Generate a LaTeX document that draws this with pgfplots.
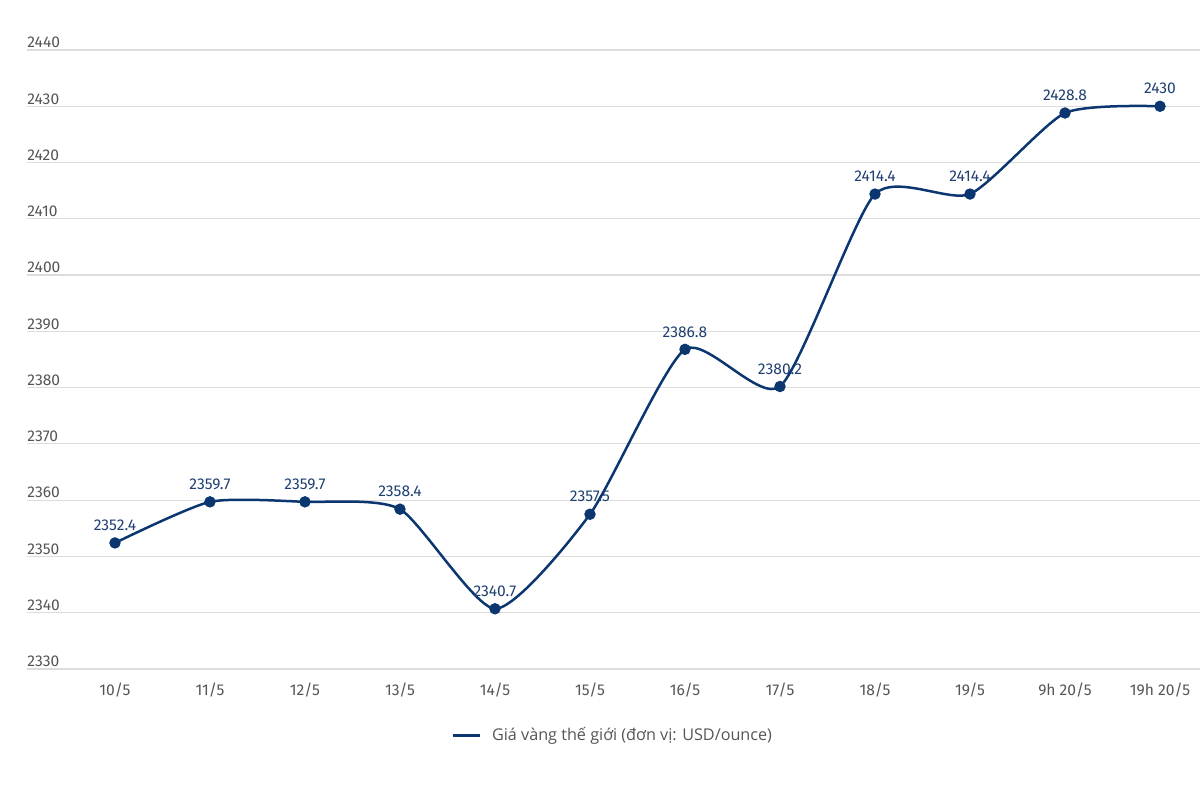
\documentclass[border=0pt]{standalone}
\usepackage{pgfplots}
\pgfplotsset{compat=1.18}
\usepackage{fontspec}
\setmainfont{Fira Sans}
\newfontfamily\legfont{Open Sans}
\definecolor{navy}{HTML}{0B3670}
\definecolor{lbl}{HTML}{1E3F70}
\definecolor{tick}{HTML}{555555}
\definecolor{gridc}{HTML}{DCDCDC}
\begin{document}
\begin{tikzpicture}
\useasboundingbox (0pt,0pt) rectangle (600pt,392.5pt);
\begin{axis}[
  at={(13.5pt,58pt)}, anchor=south west,
  scale only axis, width=586.5pt, height=309.5pt,
  xmin=-0.926, xmax=11.421, ymin=2330, ymax=2440,
  clip=false,
  axis line style={draw=none},
  major tick length=0pt,
  ytick={2330,2340,...,2440},
  ymajorgrids, grid style={gridc, line width=0.6pt},
  xtick={0,...,11},
  xticklabels={10/5,11/5,12/5,13/5,14/5,15/5,16/5,17/5,18/5,19/5,9h 20/5,19h 20/5},
  /pgf/number format/.cd, 1000 sep={}, assume math mode=true, fixed, precision=1,
  /pgfplots/.cd,
  ticklabel style={font=\fontsize{7.8pt}{9pt}\selectfont, text=tick},
  yticklabel style={anchor=south west, xshift=0pt, yshift=0.8pt, inner sep=0pt},
  xticklabel style={yshift=-3.5pt},
  nodes near coords,
  every node near coord/.append style={font=\fontsize{7.8pt}{9pt}\selectfont, text=lbl, anchor=south, yshift=2.5pt},
  legend style={at={(0.503,-0.108)}, anchor=center, draw=none, fill=none,
    font=\legfont\fontsize{8.1pt}{9pt}\selectfont, text=tick,
    nodes={inner xsep=5.5pt}},
  legend image code/.code={\draw[navy, line width=1.5pt] (0pt,0pt) -- (13.5pt,0pt);},
]
\addplot[navy, line width=1.25pt, smooth, tension=0.38, mark=*, mark size=2.6pt,
  mark options={fill=navy, draw=navy, line width=0.5pt}] coordinates {
  (0,2352.4) (1,2359.7) (2,2359.7) (3,2358.4) (4,2340.7) (5,2357.5)
  (6,2386.8) (7,2380.2) (8,2414.4) (9,2414.4) (10,2428.8) (11,2430)
};
\addlegendentry{Giá vàng thế giới (đơn vị: USD/ounce)}
\end{axis}
\end{tikzpicture}
\end{document}
